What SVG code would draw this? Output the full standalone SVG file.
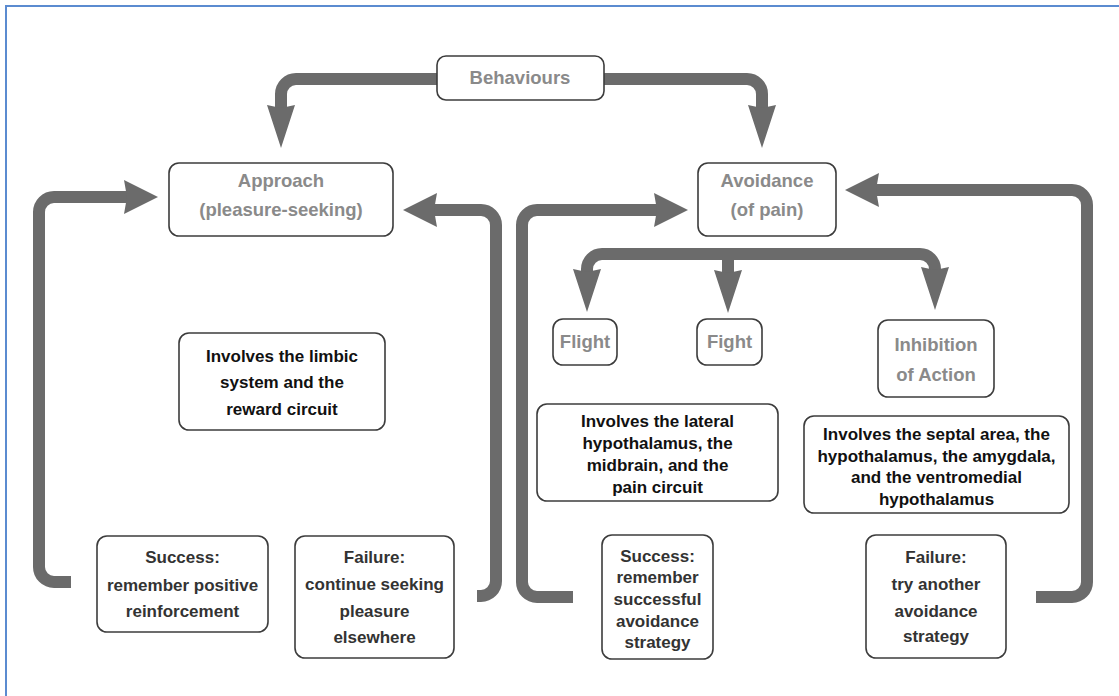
<svg xmlns="http://www.w3.org/2000/svg" width="1119" height="696" viewBox="0 0 1119 696">
<style>
.box{fill:#fff;stroke:#3c3c3c;stroke-width:1.6}
.ttl{font-family:"Liberation Sans",Arial,sans-serif;font-weight:bold;font-size:18.5px;fill:#8a8a8a;text-anchor:middle}
.txt{font-family:"Liberation Sans",Arial,sans-serif;font-weight:bold;font-size:17px;fill:#111;text-anchor:middle}
.sf{font-family:"Liberation Sans",Arial,sans-serif;font-weight:bold;font-size:17px;fill:#333;text-anchor:middle}
.con{fill:none;stroke:#6b6b6b;stroke-width:12}
</style>
<defs>
<marker id="hV" markerUnits="userSpaceOnUse" orient="auto" refX="0" refY="0" markerWidth="50" markerHeight="50" overflow="visible">
<path d="M-3,-14 L40,0 L-3,14 L0,0 Z" fill="#6b6b6b"/>
</marker>
<marker id="hH" markerUnits="userSpaceOnUse" orient="auto" refX="0" refY="0" markerWidth="50" markerHeight="50" overflow="visible">
<path d="M-3,-17 L31,0 L-3,17 L0,0 Z" fill="#6b6b6b"/>
</marker>
</defs>
<rect width="1119" height="696" fill="#fff"/>
<path d="M6,696 V6 H1119" fill="none" stroke="#5b8bd0" stroke-width="2"/>

<g id="connectors">
<path class="con" d="M437,79 H296 A15,15 0 0 0 281,94 V108" marker-end="url(#hV)"/>
<path class="con" d="M604,79 H747 A15,15 0 0 1 762,94 V108" marker-end="url(#hV)"/>
<path class="con" d="M71,582 H54 A15,15 0 0 1 39,567 V212 A15,15 0 0 1 54,197 H127" marker-end="url(#hH)"/>
<path class="con" d="M477,596 H481 A15,15 0 0 0 496,581 V225 A15,15 0 0 0 481,210 H434" marker-end="url(#hH)"/>
<path class="con" d="M573,597 H537 A15,15 0 0 1 522,582 V225 A15,15 0 0 1 537,210 H657" marker-end="url(#hH)"/>
<path class="con" d="M1036,597 H1072 A15,15 0 0 0 1087,582 V205 A15,15 0 0 0 1072,190 H876" marker-end="url(#hH)"/>
<path class="con" d="M728,254 H602 A15,15 0 0 0 587,269 V272" marker-end="url(#hV)"/>
<path class="con" d="M728,254 H920 A15,15 0 0 1 935,269 V270" marker-end="url(#hV)"/>
<path class="con" d="M728,248 V273" marker-end="url(#hV)"/>
</g>

<g id="behaviours">
<rect class="box" x="437" y="56" width="167" height="44" rx="9"/>
<text class="ttl" x="520" y="84">Behaviours</text>
</g>
<g id="approach">
<rect class="box" x="169" y="163" width="224" height="73" rx="10"/>
<text class="ttl" x="281" y="187">Approach</text>
<text class="ttl" x="281" y="216">(pleasure-seeking)</text>
</g>
<g id="avoidance">
<rect class="box" x="698" y="163" width="138" height="73" rx="10"/>
<text class="ttl" x="767" y="187">Avoidance</text>
<text class="ttl" x="767" y="216">(of pain)</text>
</g>
<g id="flight">
<rect class="box" x="553" y="319" width="64" height="46" rx="10"/>
<text class="ttl" x="585" y="348">Flight</text>
</g>
<g id="fight">
<rect class="box" x="697" y="319" width="65" height="46" rx="10"/>
<text class="ttl" x="729.5" y="348">Fight</text>
</g>
<g id="inhibition">
<rect class="box" x="878" y="320" width="116" height="77" rx="10"/>
<text class="ttl" x="936" y="351">Inhibition</text>
<text class="ttl" x="936" y="381">of Action</text>
</g>
<g id="limbic">
<rect class="box" x="179" y="333" width="206" height="97" rx="10"/>
<text class="txt" x="282" y="362">Involves the limbic</text>
<text class="txt" x="282" y="388">system and the</text>
<text class="txt" x="282" y="415">reward circuit</text>
</g>
<g id="lateral">
<rect class="box" x="537" y="404" width="241" height="97" rx="10"/>
<text class="txt" x="657.5" y="427">Involves the lateral</text>
<text class="txt" x="657.5" y="449">hypothalamus, the</text>
<text class="txt" x="657.5" y="471">midbrain, and the</text>
<text class="txt" x="657.5" y="493">pain circuit</text>
</g>
<g id="septal">
<rect class="box" x="804" y="416" width="265" height="97" rx="10"/>
<text class="txt" x="936.5" y="440">Involves the septal area, the</text>
<text class="txt" x="936.5" y="462">hypothalamus, the amygdala,</text>
<text class="txt" x="936.5" y="483">and the ventromedial</text>
<text class="txt" x="936.5" y="505">hypothalamus</text>
</g>
<g id="success-left">
<rect class="box" x="97" y="536" width="171" height="96" rx="10"/>
<text class="sf" x="182.5" y="563">Success:</text>
<text class="sf" x="182.5" y="591">remember positive</text>
<text class="sf" x="182.5" y="617">reinforcement</text>
</g>
<g id="failure-left">
<rect class="box" x="295" y="536" width="159" height="122" rx="10"/>
<text class="sf" x="374.5" y="563">Failure:</text>
<text class="sf" x="374.5" y="590">continue seeking</text>
<text class="sf" x="374.5" y="617">pleasure</text>
<text class="sf" x="374.5" y="643">elsewhere</text>
</g>
<g id="success-right">
<rect class="box" x="602" y="535" width="111" height="124" rx="10"/>
<text class="sf" x="657.5" y="562">Success:</text>
<text class="sf" x="657.5" y="583">remember</text>
<text class="sf" x="657.5" y="605">successful</text>
<text class="sf" x="657.5" y="627">avoidance</text>
<text class="sf" x="657.5" y="648">strategy</text>
</g>
<g id="failure-right">
<rect class="box" x="866" y="535" width="140" height="123" rx="10"/>
<text class="sf" x="936" y="563">Failure:</text>
<text class="sf" x="936" y="590">try another</text>
<text class="sf" x="936" y="617">avoidance</text>
<text class="sf" x="936" y="642">strategy</text>
</g>
</svg>
